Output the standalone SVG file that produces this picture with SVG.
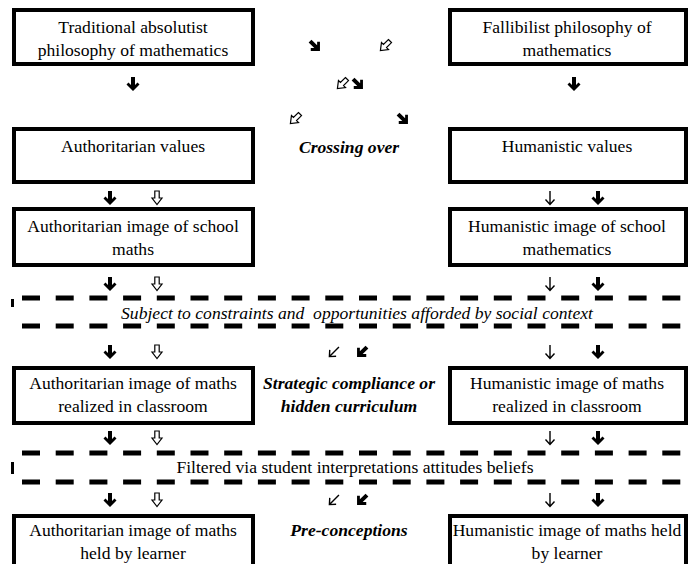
<svg xmlns="http://www.w3.org/2000/svg" xmlns:xlink="http://www.w3.org/1999/xlink" width="698" height="564" viewBox="0 0 698 564">
<style>
.box{fill:#fff;stroke:#000;stroke-width:4}
.t{font-family:"Liberation Serif","Times New Roman",serif;font-size:17.6px;fill:#000;text-anchor:middle}
.bi{font-weight:bold;font-style:italic}
.it{font-style:italic}
.dash{stroke:#000;stroke-width:5;stroke-dasharray:18 15.7;fill:none}
</style>
<defs>
<polygon id="solid" points="-2,-7 2,-7 2,1 4.5,-1.5 6.5,0.5 0,7 -6.5,0.5 -4.5,-1.5 -2,1" fill="#000"/>
<polygon id="hollow" points="-2.2,-7 2.2,-7 2.2,0 5,0 0,6.5 -5,0 -2.2,0" fill="#fff" stroke="#000" stroke-width="1.2" stroke-linejoin="miter"/>
<path id="thin" d="M0,-7V6M-4.5,1.5L0,6.5L4.5,1.5" fill="none" stroke="#000" stroke-width="1.4"/>
</defs>
<rect width="698" height="564" fill="#fff"/>

<g id="n-absolutist"><rect class="box" x="14" y="10" width="239" height="54"/><text class="t" x="133" y="33">Traditional absolutist</text><text class="t" x="133" y="56">philosophy of mathematics</text></g>
<g id="n-fallibilist"><rect class="box" x="450" y="10" width="236" height="54"/><text class="t" x="567" y="33">Fallibilist philosophy of</text><text class="t" x="567" y="56">mathematics</text></g>
<g id="n-auth-values"><rect class="box" x="14" y="129" width="239" height="53"/><text class="t" x="133" y="152">Authoritarian values</text></g>
<g id="n-crossing"><text class="t bi" x="349" y="153">Crossing over</text></g>
<g id="n-hum-values"><rect class="box" x="450" y="129" width="236" height="53"/><text class="t" x="567" y="152">Humanistic values</text></g>
<g id="n-auth-school"><rect class="box" x="14" y="209" width="239" height="56"/><text class="t" x="133" y="232">Authoritarian image of school</text><text class="t" x="133" y="255">maths</text></g>
<g id="n-hum-school"><rect class="box" x="450" y="209" width="236" height="56"/><text class="t" x="567" y="232">Humanistic image of school</text><text class="t" x="567" y="255">mathematics</text></g>
<g id="n-social"><text class="t it" x="357" y="319" style="white-space:pre">Subject to constraints and  opportunities afforded by social context</text></g>
<g id="n-auth-class"><rect class="box" x="14" y="368" width="239" height="55"/><text class="t" x="133" y="389">Authoritarian image of maths</text><text class="t" x="133" y="412">realized in classroom</text></g>
<g id="n-strategic"><text class="t bi" x="349" y="389">Strategic compliance or</text><text class="t bi" x="349" y="412">hidden curriculum</text></g>
<g id="n-hum-class"><rect class="box" x="450" y="368" width="236" height="55"/><text class="t" x="567" y="389">Humanistic image of maths</text><text class="t" x="567" y="412">realized in classroom</text></g>
<g id="n-filtered"><text class="t" x="355" y="473">Filtered via student interpretations attitudes beliefs</text></g>
<g id="n-auth-learner"><rect class="box" x="14" y="516" width="239" height="60"/><text class="t" x="133" y="536">Authoritarian image of maths</text><text class="t" x="133" y="559">held by learner</text></g>
<g id="n-pre"><text class="t bi" x="349" y="536">Pre-conceptions</text></g>
<g id="n-hum-learner"><rect class="box" x="450" y="516" width="236" height="60"/><text class="t" x="567" y="536">Humanistic image of maths held</text><text class="t" x="567" y="559">by learner</text></g>

<g id="connectors">
<line class="dash" x1="22" y1="298" x2="681" y2="298"/>
<line class="dash" x1="22" y1="326" x2="681" y2="326"/>
<rect x="11" y="299" width="3" height="8" fill="#000"/>
<line class="dash" x1="22" y1="453" x2="681" y2="453"/>
<line class="dash" x1="22" y1="482" x2="681" y2="482"/>
<rect x="11" y="462" width="3" height="12" fill="#000"/>

<use xlink:href="#solid" transform="translate(133,84)"/>
<use xlink:href="#solid" transform="translate(574,84)"/>
<use xlink:href="#solid" transform="translate(315,46) rotate(-45)"/>
<use xlink:href="#hollow" transform="translate(385,46) rotate(45)"/>
<use xlink:href="#hollow" transform="translate(342,84) rotate(45)"/>
<use xlink:href="#solid" transform="translate(358,84) rotate(-45)"/>
<use xlink:href="#hollow" transform="translate(295,119) rotate(45)"/>
<use xlink:href="#solid" transform="translate(403,119) rotate(-45)"/>

<use xlink:href="#solid" transform="translate(110,198)"/>
<use xlink:href="#hollow" transform="translate(157,198)"/>
<use xlink:href="#thin" transform="translate(550,198)"/>
<use xlink:href="#solid" transform="translate(598,198)"/>

<use xlink:href="#solid" transform="translate(110,284)"/>
<use xlink:href="#hollow" transform="translate(157,284)"/>
<use xlink:href="#thin" transform="translate(550,284)"/>
<use xlink:href="#solid" transform="translate(598,284)"/>

<use xlink:href="#solid" transform="translate(110,352)"/>
<use xlink:href="#hollow" transform="translate(157,352)"/>
<use xlink:href="#thin" transform="translate(334,352) rotate(45)"/>
<use xlink:href="#solid" transform="translate(362,352) rotate(45)"/>
<use xlink:href="#thin" transform="translate(550,352)"/>
<use xlink:href="#solid" transform="translate(598,352)"/>

<use xlink:href="#solid" transform="translate(110,438)"/>
<use xlink:href="#hollow" transform="translate(157,438)"/>
<use xlink:href="#thin" transform="translate(550,438)"/>
<use xlink:href="#solid" transform="translate(598,438)"/>

<use xlink:href="#solid" transform="translate(110,500)"/>
<use xlink:href="#hollow" transform="translate(157,500)"/>
<use xlink:href="#thin" transform="translate(334,500) rotate(45)"/>
<use xlink:href="#solid" transform="translate(362,500) rotate(45)"/>
<use xlink:href="#thin" transform="translate(550,500)"/>
<use xlink:href="#solid" transform="translate(598,500)"/>
</g>
</svg>
